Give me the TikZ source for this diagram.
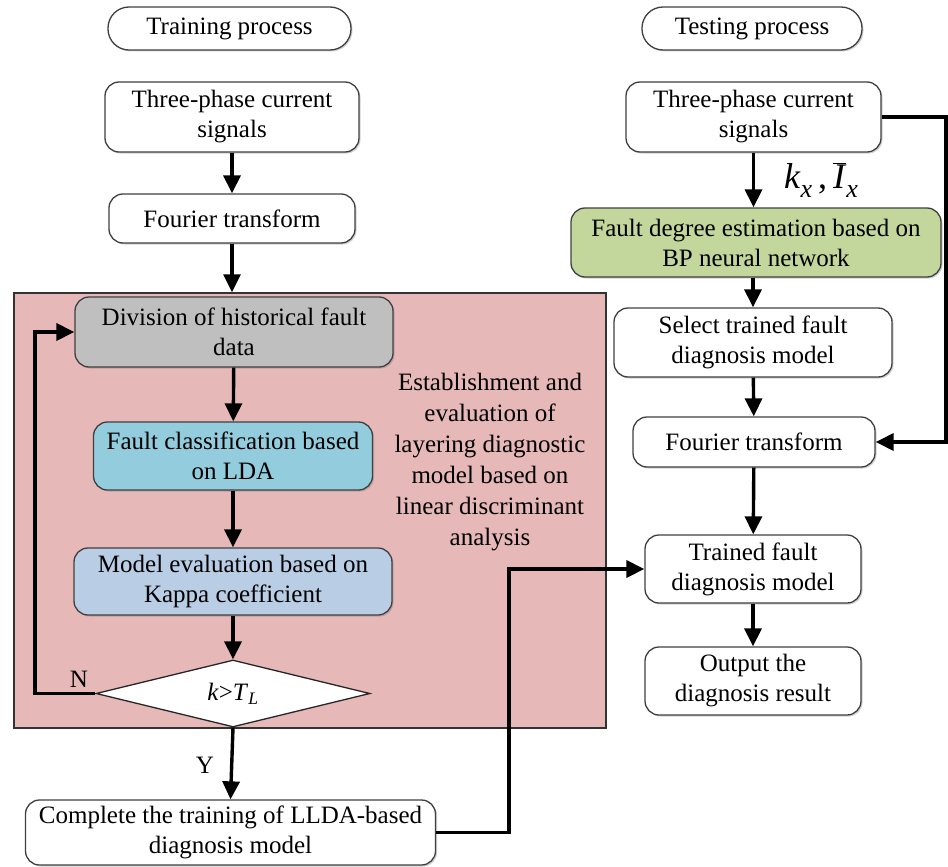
\documentclass[tikz,border=0pt]{standalone}
\usepackage{fontspec}
\setmainfont{Liberation Serif}
\newfontfamily\tnr{Liberation Serif}
\usetikzlibrary{arrows.meta,shapes.geometric,shadows}
\definecolor{pinkbg}{RGB}{230,184,183}
\definecolor{graybox}{RGB}{191,191,191}
\definecolor{ldabox}{RGB}{147,205,221}
\definecolor{kappabox}{RGB}{185,205,229}
\definecolor{greenbox}{RGB}{195,214,155}
\begin{document}
\begin{tikzpicture}[x=1pt,y=-1pt,
  box/.style={draw=black!75, line width=1.3pt, rounded corners=14pt, fill=white,
    align=center, font=\tnr\fontsize{25}{30}\selectfont, inner sep=0pt,
    drop shadow={shadow xshift=1.5pt, shadow yshift=-1.5pt, opacity=0.3, fill=black!60}},
  term/.style={box, rounded corners=21pt},
  arr/.style={line width=3.4pt, -{Triangle[length=18pt,width=17pt]}},
  lbl/.style={font=\tnr\fontsize{25}{30}\selectfont, inner sep=0pt}]
\useasboundingbox (0,0) rectangle (948,867);

% region
\node[draw=black!80, line width=1.5pt, fill=pinkbg, minimum width=592pt, minimum height=435pt, inner sep=0pt] (region) at (310,510.5) {};

% left column
\node[term, minimum width=243pt, minimum height=43pt] (train) at (229.5,28.5) {Training process};
\node[box, minimum width=254pt, minimum height=70pt] (tp1) at (232,117) {Three-phase current\\signals};
\node[box, minimum width=246pt, minimum height=49pt] (ft1) at (232,218.5) {Fourier transform};
\node[box, fill=graybox, minimum width=318pt, minimum height=70pt] (div) at (234,332) {Division of historical fault\\data};
\node[box, fill=ldabox, minimum width=279pt, minimum height=68pt] (lda) at (233,456) {Fault classification based\\on LDA};
\node[box, fill=kappabox, minimum width=318pt, minimum height=67pt] (kappa) at (233,581.5) {Model evaluation based on\\Kappa coefficient};
\node[draw=black!85, line width=1.3pt, fill=white, shape=diamond, aspect=4.1, inner sep=0pt,
  minimum width=274pt, minimum height=67pt, font=\tnr\fontsize{25}{30}\selectfont] (dia) at (233,693.5)
  {\textit{k}>\textit{T}\textsubscript{\textit{L}}};
\node[align=center, font=\tnr\fontsize{25}{31}\selectfont, inner sep=0pt] (est) at (490,462)
  {Establishment and\\evaluation of\\layering diagnostic\\model based on\\linear discriminant\\analysis};
\node[box, minimum width=410pt, minimum height=65pt] (bot) at (230.5,832.5) {Complete the training of LLDA-based\\diagnosis model};

% right column
\node[term, minimum width=220pt, minimum height=43pt] (test) at (752,28.5) {Testing process};
\node[box, minimum width=255pt, minimum height=70pt] (tp2) at (753.5,117) {Three-phase current\\signals};
\node[box, fill=greenbox, minimum width=370pt, minimum height=69pt] (green) at (756,242.5) {Fault degree estimation based on\\BP neural network};
\node[box, minimum width=278pt, minimum height=69pt] (sel) at (753,342.5) {Select trained fault\\diagnosis model};
\node[box, minimum width=242pt, minimum height=50pt] (ft2) at (754,442) {Fourier transform};
\node[box, minimum width=216pt, minimum height=68pt] (trained) at (753,569) {Trained fault\\diagnosis model};
\node[box, minimum width=216pt, minimum height=68pt] (out) at (753,681) {Output the\\diagnosis result};

% labels
\node[lbl] (nlab) at (79,679) {N};
\node[lbl] (ylab) at (205,765) {Y};
\node[inner sep=0pt, font=\tnr\fontsize{36}{40}\selectfont] (kx) at (821,180)
  {\textit{k}\raisebox{-9pt}{\fontsize{26}{28}\selectfont\textit{x}}\,,\,$\overline{\mbox{\textit{I}}}$\raisebox{-9pt}{\fontsize{26}{28}\selectfont\textit{x}}};

% coordinates
\coordinate (lx) at (35,0);
\coordinate (vx) at (509,0);
\coordinate (rx) at (946,0);

% arrows left
\draw[arr] (tp1) -- (ft1);
\draw[arr] (ft1.south) -- (ft1.south |- region.north);
\draw[arr] (div) -- (lda);
\draw[arr] (lda) -- (kappa);
\draw[arr] (kappa) -- (dia);
\draw[arr] (dia.west) -- (lx |- dia.west) -- (lx |- div.west) -- (div.west);
\draw[arr] (dia.south) -- (bot.north);
\draw[arr] (bot.east) -- (vx |- bot.east) -- (vx |- trained.west) -- (trained.west);

% arrows right
\draw[arr] (tp2) -- (tp2.south |- green.north);
\draw[arr] (green.south -| sel.north) -- (sel.north);
\draw[arr] (sel) -- (ft2);
\draw[arr] (ft2) -- (trained);
\draw[arr] (trained) -- (out);
\draw[arr] (tp2.east) -- (rx |- tp2.east) -- (rx |- ft2.east) -- (ft2.east);
\end{tikzpicture}
\end{document}
